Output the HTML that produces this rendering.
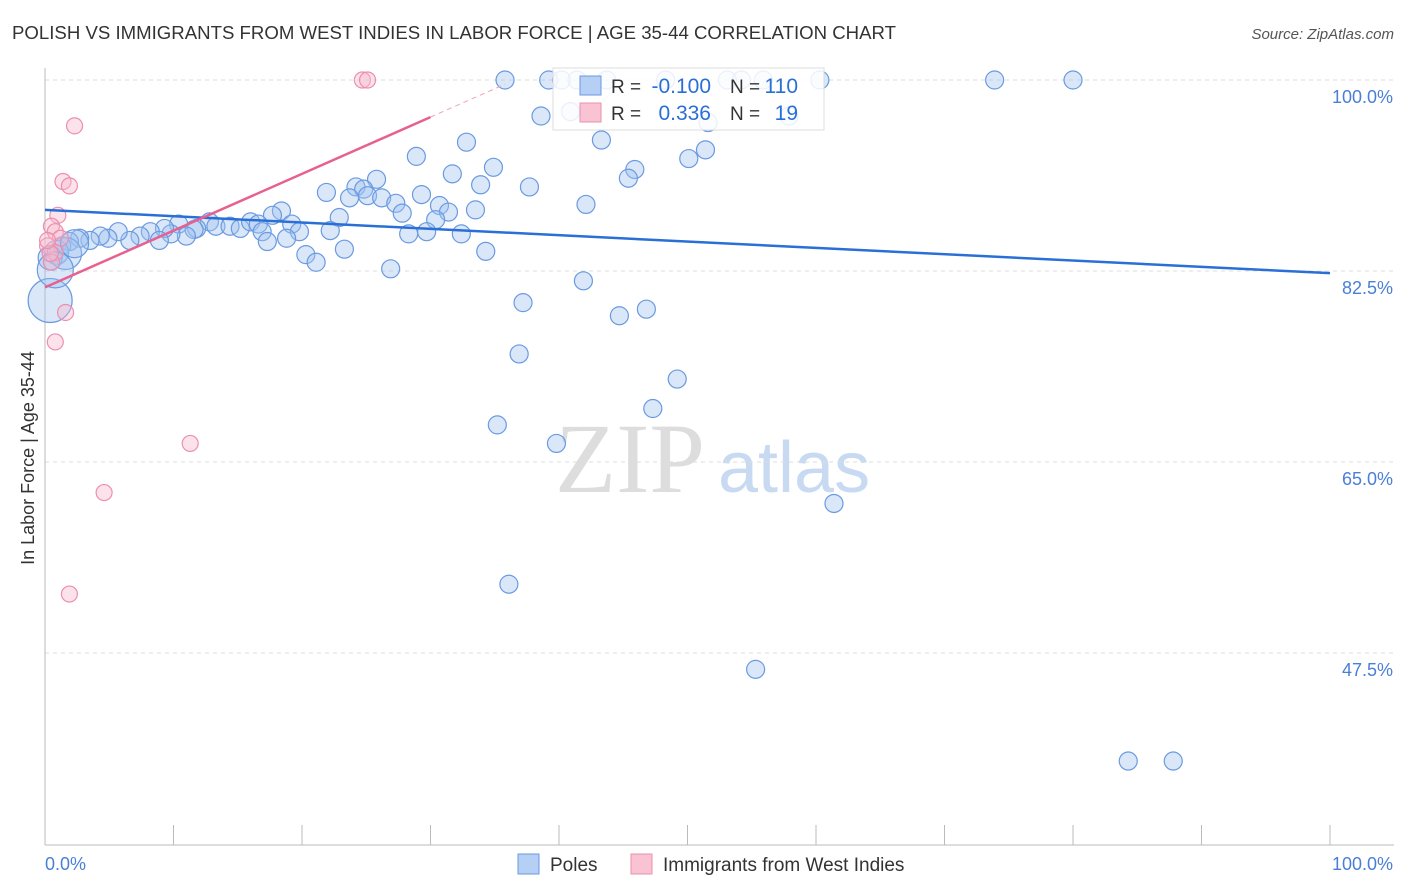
<!DOCTYPE html>
<html><head><meta charset="utf-8"><style>
body{margin:0;background:#fff;font-family:"Liberation Sans",sans-serif;}
svg{display:block}
</style></head><body>
<svg id="c" width="1406" height="892">
<text x="12" y="39" font-size="18" fill="#333" textLength="884" lengthAdjust="spacingAndGlyphs">POLISH VS IMMIGRANTS FROM WEST INDIES IN LABOR FORCE | AGE 35-44 CORRELATION CHART</text>
<text x="1394" y="39" font-size="15" fill="#555" text-anchor="end" font-style="italic">Source: ZipAtlas.com</text>
<text x="34" y="458" font-size="18" fill="#333" text-anchor="middle" transform="rotate(-90 34 458)">In Labor Force | Age 35-44</text>
<text x="555" y="492" font-size="100" fill="#ddd" font-family="Liberation Serif">ZIP</text>
<text x="718" y="492" font-size="72" fill="#c8daf2">atlas</text>
<g id="grid"></g><g id="pts"></g><g id="trend"></g>
</svg>
<script>
const yTicks=[100,82.5,65,47.5];
const yTickLabels=["100.0%","82.5%","65.0%","47.5%"];
const blueX=[35.8,39.2,40.2,41.4,43.7,48.3,53.1,54.2,55.9,60.3,73.9,80.0,38.6,40.9,51.6,57.9,32.8,43.3,28.9,51.4,50.1,34.9,45.9,45.4,31.7,25.8,33.9,37.7,21.9,24.2,24.8,23.7,25.1,26.2,27.3,29.3,30.7,27.8,31.4,33.5,30.4,42.1,18.4,17.7,22.9,19.2,12.8,10.4,11.8,13.3,14.4,15.2,16.0,16.6,16.9,22.2,19.8,18.8,17.3,28.3,29.7,32.4,11.6,11.0,9.8,9.3,8.2,7.4,8.9,6.6,5.7,4.9,4.3,3.5,2.7,1.9,1.3,0.9,0.4,23.3,34.3,20.3,21.1,26.9,41.9,37.2,44.7,46.8,36.9,49.2,47.3,35.2,39.8,61.4,36.1,55.3,84.3,87.8,1.6,0.4,0.8,2.3];
const blueY=[100,100,100,100,100,100,100,100,100,100,100,100,96.7,97.1,96.1,96.7,94.3,94.5,93.0,93.6,92.8,92.0,91.8,91.0,91.4,90.9,90.4,90.2,89.7,90.2,90.0,89.2,89.4,89.2,88.7,89.5,88.5,87.8,87.9,88.1,87.2,88.6,88.0,87.6,87.4,86.8,87.0,86.8,86.4,86.6,86.6,86.4,87.0,86.8,86.1,86.2,86.1,85.5,85.2,85.9,86.1,85.9,86.3,85.7,85.9,86.4,86.1,85.7,85.3,85.3,86.1,85.5,85.7,85.3,85.5,85.2,84.8,84.2,83.7,84.5,84.3,84.0,83.3,82.7,81.6,79.6,78.4,79.0,74.9,72.6,69.9,68.4,66.7,61.2,53.8,46.0,37.6,37.6,84.1,79.8,82.6,85.0];
const blueR=[9,9,9,9,9,9,9,9,9,9,9,9,9,9,9,9,9,9,9,9,9,9,9,9,9,9,9,9,9,9,9,9,9,9,9,9,9,9,9,9,9,9,9,9,9,9,9,9,9,9,9,9,9,9,9,9,9,9,9,9,9,9,9,9,9,9,9,9,9,9,9,9,9,9,9,9,9,12,12,9,9,9,9,9,9,9,9,9,9,9,9,9,9,9,9,9,9,9,16,22,18,14];
const pinkX=[24.7,25.1,2.3,1.4,1.9,1.0,0.5,0.8,1.2,0.2,0.8,0.5,1.6,0.8,11.3,4.6,1.9,0.4,0.2];
const pinkY=[100,100,95.8,90.7,90.3,87.6,86.6,86.1,85.5,84.8,84.2,83.3,78.7,76.0,66.7,62.2,52.9,84.1,85.3];
const blueTrend=[88.1,82.3];
const pinkTrend=[81.0,96.6];
const NS="http://www.w3.org/2000/svg";
const X=v=>45+v*12.85, Y=v=>80+(100-v)*10.914;
function mk(t,a,p){const e=document.createElementNS(NS,t);for(const k in a)e.setAttribute(k,a[k]);p.appendChild(e);return e;}
const grid=document.getElementById('grid'),pts=document.getElementById('pts'),tr=document.getElementById('trend'),svg=document.getElementById('c');
yTicks.forEach((t,i)=>{
 const l=mk('line',{x1:45,x2:1394,y1:Y(t),y2:Y(t),stroke:'#ddd','stroke-dasharray':'4 4'},grid);
 
 
 const tx=mk('text',{x:1393,y:Y(t)+23,'font-size':18,fill:'#4a7fd6','text-anchor':'end'},grid);tx.textContent=yTickLabels[i];
 
 
});
let ax=mk('line',{x1:45,x2:45,y1:68,y2:845,stroke:'#bbb'},grid);


ax=mk('line',{x1:45,x2:1394,y1:845,y2:845,stroke:'#bbb'},grid);


for(let i=1;i<=10;i++){const t=mk('line',{x1:X(i*10),x2:X(i*10),y1:825,y2:845,stroke:'#bbb'},grid);
 
 }
let t=mk('text',{x:45,y:870,'font-size':18,fill:'#4a7fd6'},grid);t.textContent='0.0%';


t=mk('text',{x:1393,y:870,'font-size':18,fill:'#4a7fd6','text-anchor':'end'},grid);t.textContent='100.0%';


blueX.forEach((v,i)=>{const c=mk('circle',{cx:X(v),cy:Y(blueY[i]),r:blueR[i],fill:'rgba(160,195,240,0.4)',stroke:'#6a9ae0','stroke-width':1.2},pts);
 
 });
pinkX.forEach((v,i)=>{const c=mk('circle',{cx:X(v),cy:Y(pinkY[i]),r:8,fill:'rgba(248,185,205,0.4)',stroke:'#ec8fae','stroke-width':1.2},pts);
 
 });
let l=mk('line',{x1:X(0),y1:Y(blueTrend[0]),x2:X(100),y2:Y(blueTrend[1]),stroke:'#2a6fd6','stroke-width':2.5},tr);


const ps=(pinkTrend[1]-pinkTrend[0])/30;
l=mk('line',{x1:X(0),y1:Y(pinkTrend[0]),x2:X(30),y2:Y(pinkTrend[1]),stroke:'#e8608f','stroke-width':2.5},tr);


l=mk('line',{x1:X(30),y1:Y(pinkTrend[1]),x2:X(35.8),y2:Y(pinkTrend[0]+ps*35.8),stroke:'#f0a0b8','stroke-width':1,'stroke-dasharray':'5 4'},tr);


const lg=mk('g',{},svg);


mk('rect',{x:553,y:68,width:271,height:62,fill:'rgba(255,255,255,0.85)',stroke:'#ddd'},lg);
mk('rect',{x:580,y:76,width:21,height:19,fill:'#b5cff5',stroke:'#6a9ae0'},lg);
mk('rect',{x:580,y:103,width:21,height:19,fill:'#f9c3d3',stroke:'#ec8fae'},lg);
[[86,'-0.100','110'],[113,'0.336','19']].forEach(r=>{
 let a=mk('text',{x:611,y:r[0]+7,'font-size':19,fill:'#333'},lg);a.textContent='R =';
 a=mk('text',{x:711,y:r[0]+7,'font-size':21,fill:'#2a6fd6','text-anchor':'end'},lg);a.textContent=r[1];
 a=mk('text',{x:730,y:r[0]+7,'font-size':19,fill:'#333'},lg);a.textContent='N =';
 a=mk('text',{x:798,y:r[0]+7,'font-size':21,fill:'#2a6fd6','text-anchor':'end'},lg);a.textContent=r[2];
});
const bl=mk('g',{},svg);


mk('rect',{x:518,y:854,width:21,height:20,fill:'#b5cff5',stroke:'#6a9ae0'},bl);
let a=mk('text',{x:550,y:871,'font-size':19,fill:'#333'},bl);a.textContent='Poles';
mk('rect',{x:631,y:854,width:21,height:20,fill:'#f9c3d3',stroke:'#ec8fae'},bl);
a=mk('text',{x:663,y:871,'font-size':19,fill:'#333'},bl);a.textContent='Immigrants from West Indies';
</script>
</body></html>
